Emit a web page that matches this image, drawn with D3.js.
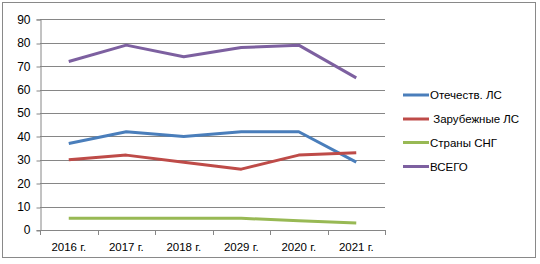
<!DOCTYPE html>
<html>
<head>
<meta charset="utf-8">
<script src="https://cdn.jsdelivr.net/npm/d3@7"></script>
<style>
body { margin: 0; background: #fff; }
text { font-family: "Liberation Sans", "DejaVu Sans", sans-serif; fill: #000; }
</style>
</head>
<body>
<div id="chart"></div>
<script>
var years = ["2016 г.", "2017 г.", "2018 г.", "2029 г.", "2020 г.", "2021 г."];
var domestic = [37, 42, 40, 42, 42, 29];
var foreign = [30, 32, 29, 26, 32, 33];
var cis = [5, 5, 5, 5, 4, 3];
var total = [72, 79, 74, 78, 79, 65];
var yTicks = [0, 10, 20, 30, 40, 50, 60, 70, 80, 90];

var series = [
    {name: "Отечеств. ЛС", values: domestic, color: "#4a7ebb"},
    {name: " Зарубежные ЛС", values: foreign, color: "#be4b48"},
    {name: "Страны СНГ", values: cis, color: "#98b954"},
    {name: "ВСЕГО", values: total, color: "#7d60a0"}
];

function init() {
    var w = 540;
    var h = 264;

    var svg = d3.select("#chart")
                .append("svg")
                .attr("width", w)
                .attr("height", h);

    svg.append("rect")
       .attr("x", 2.5).attr("y", 2.5)
       .attr("width", 533).attr("height", 255)
       .attr("fill", "#fff")
       .attr("stroke", "#898989");

    var x = d3.scaleBand().domain(years).range([40, 385]);
    var y = d3.scaleLinear().domain([0, 90]).range([230, 19.4]);

    // gridlines
    svg.append("g")
       .selectAll("line")
       .data(yTicks.slice(1))
       .enter()
       .append("line")
       .attr("x1", 40).attr("x2", 385)
       .attr("y1", function(d) { return Math.round(y(d)) + 0.5; })
       .attr("y2", function(d) { return Math.round(y(d)) + 0.5; })
       .attr("stroke", "#868686");

    var yAxis = svg.append("g")
       .attr("transform", "translate(40.5,0)")
       .call(d3.axisLeft(y).tickValues(yTicks).tickSize(4).tickPadding(6));
    yAxis.selectAll("line").attr("stroke", "#868686")
         .attr("transform", function(d) { return "translate(0," + (Math.round(y(d)) + 0.5 - y(d)) + ")"; });
    yAxis.select(".domain").attr("stroke", "#868686");
    yAxis.selectAll("text").attr("font-size", 12)
         .style("font-family", "'Liberation Sans', sans-serif");

    var xAxis = svg.append("g")
       .attr("transform", "translate(0,230.5)")
       .call(d3.axisBottom(x).tickSize(0).tickPadding(12));
    xAxis.select(".domain").attr("stroke", "#868686").attr("d", "M40,0H385");
    xAxis.selectAll("text").attr("font-size", 11.5);

    // category boundary ticks
    svg.append("g")
       .selectAll("line")
       .data(years.concat(["end"]))
       .enter()
       .append("line")
       .attr("x1", function(d, i) { return Math.round(40 + i * x.step()) + 0.5; })
       .attr("x2", function(d, i) { return Math.round(40 + i * x.step()) + 0.5; })
       .attr("y1", 230).attr("y2", 235)
       .attr("stroke", "#868686");

    var line = d3.line()
       .x(function(d, i) { return x(years[i]) + x.bandwidth() / 2; })
       .y(function(d) { return y(d); });

    svg.append("g")
       .selectAll("path")
       .data(series)
       .enter()
       .append("path")
       .attr("d", function(d) { return line(d.values); })
       .attr("fill", "none")
       .attr("stroke", function(d) { return d.color; })
       .attr("stroke-width", 3)
       .attr("stroke-linejoin", "round");

    // legend
    var legendY = [95, 119, 142.5, 166.5];
    var lg = svg.append("g")
       .selectAll("g")
       .data(series)
       .enter()
       .append("g")
       .attr("transform", function(d, i) { return "translate(403," + legendY[i] + ")"; });
    lg.append("line")
      .attr("x1", 0).attr("x2", 26)
      .attr("stroke", function(d) { return d.color; })
      .attr("stroke-width", 3);
    lg.append("text")
      .attr("x", 27).attr("dy", "0.35em")
      .attr("font-size", 11.5)
      .style("white-space", "pre")
      .text(function(d) { return d.name; });
}
window.onload = init;
</script>
</body>
</html>
